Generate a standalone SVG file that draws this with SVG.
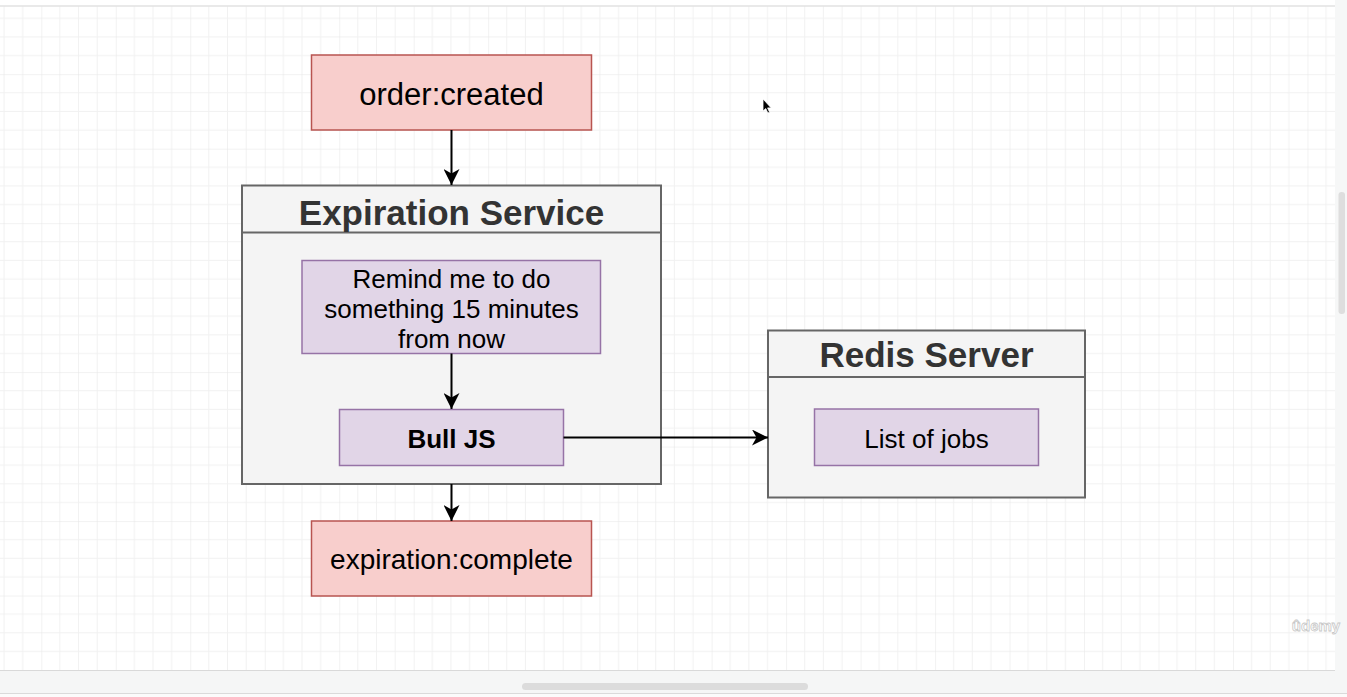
<svg xmlns="http://www.w3.org/2000/svg" width="1347" height="697" viewBox="0 0 1347 697">
  <defs>
    <pattern id="grid" patternUnits="userSpaceOnUse" x="41.3" y="-0.3" width="74.48" height="74.48">
      <path d="M18.62,0 V74.48 M37.24,0 V74.48 M55.86,0 V74.48 M0,18.62 H74.48 M0,37.24 H74.48 M0,55.86 H74.48" stroke="#f1f1f1" stroke-width="1" fill="none"/>
      <path d="M0,0 V74.48 M0,0 H74.48" stroke="#e5e5e5" stroke-width="1" fill="none"/>
    </pattern>
    <marker id="arrow" markerUnits="userSpaceOnUse" markerWidth="17" markerHeight="16" refX="16" refY="8" orient="auto">
      <path d="M0,0 L16,8 L0,16 L4.5,8 Z" fill="#000"/>
    </marker>
    <style>
      .txt { font-family: "Liberation Sans", Arial, sans-serif; text-anchor: middle; fill: #000; }
      .title { font-family: "Liberation Sans", Arial, sans-serif; text-anchor: middle; font-weight: bold; font-size: 35px; fill: #333333; }
      .event { fill: #f8cecc; stroke: #b85450; stroke-width: 1.5; }
      .cont { fill: #f4f4f4; stroke: #666666; stroke-width: 2; }
      .inner { fill: #e1d5e7; stroke: #9673a6; stroke-width: 1.5; }
      .edge { stroke: #000; stroke-width: 2; fill: none; marker-end: url(#arrow); }
    </style>
  </defs>

  <!-- canvas background -->
  <rect x="0" y="0" width="1347" height="697" fill="#ffffff"/>
  <rect x="0" y="6" width="1335" height="664" fill="url(#grid)"/>
  <line x1="0" y1="6" x2="1335" y2="6" stroke="#e2e2e2" stroke-width="1.5"/>
  <rect x="0" y="670" width="1347" height="27" fill="#f5f6f6"/>
  <line x1="0" y1="670.5" x2="1335" y2="670.5" stroke="#d9d9d9" stroke-width="1.2"/>
  <rect x="522" y="683" width="286" height="7" rx="3.5" fill="#dcdcdc"/>
  <line x1="0" y1="693.5" x2="1347" y2="693.5" stroke="#dadada" stroke-width="1"/>
  <rect x="0" y="694" width="1347" height="3" fill="#fbfbfb"/>
  <rect x="1335" y="0" width="12" height="670" fill="#f6f7f7"/>
  <rect x="1338.5" y="192" width="6.5" height="122" rx="3" fill="#dedede"/>

  <g id="order-created">
    <rect class="event" x="311.5" y="55" width="280" height="75"/>
    <text class="txt" x="451.5" y="105" font-size="31">order:created</text>
  </g>

  <g id="expiration-service">
    <rect class="cont" x="242" y="185.5" width="419" height="298.5"/>
    <line x1="242" y1="232.5" x2="661" y2="232.5" stroke="#666666" stroke-width="2"/>
    <text class="title" x="451.5" y="225">Expiration Service</text>
  </g>

  <g id="remind">
    <rect class="inner" x="302" y="260.5" width="298.5" height="93"/>
    <text class="txt" font-size="26" x="451.5" y="288">Remind me to do</text>
    <text class="txt" font-size="26" x="451.5" y="318">something 15 minutes</text>
    <text class="txt" font-size="26" x="451.5" y="347.5">from now</text>
  </g>

  <g id="bull-js">
    <rect class="inner" x="339.5" y="409.5" width="224" height="56"/>
    <text class="txt" font-size="26" font-weight="bold" x="451.5" y="448">Bull JS</text>
  </g>

  <g id="expiration-complete">
    <rect class="event" x="311.5" y="521" width="280" height="75"/>
    <text class="txt" x="451.5" y="569" font-size="28">expiration:complete</text>
  </g>

  <g id="redis-server">
    <rect class="cont" x="768" y="330.5" width="317" height="167"/>
    <line x1="768" y1="377" x2="1085" y2="377" stroke="#666666" stroke-width="2"/>
    <text class="title" x="926.5" y="367">Redis Server</text>
  </g>

  <g id="list-of-jobs">
    <rect class="inner" x="814.5" y="409" width="224" height="56.5"/>
    <text class="txt" font-size="26" x="926.5" y="448">List of jobs</text>
  </g>

  <!-- connectors -->
  <g id="connectors">
    <line class="edge" x1="451.5" y1="130" x2="451.5" y2="185"/>
    <line class="edge" x1="451.5" y1="353.5" x2="451.5" y2="409"/>
    <line class="edge" x1="451.5" y1="484" x2="451.5" y2="521"/>
    <line class="edge" x1="563.5" y1="437.5" x2="768" y2="437.5"/>
  </g>

  <!-- mouse cursor -->
  <path d="M763,99 L763,111 L765.8,108.6 L767.8,113 L769.6,112.2 L767.6,107.9 L771.2,107.9 Z" fill="#000" stroke="#fff" stroke-width="0.8"/>

  <!-- watermark -->
  <text x="1316" y="631" font-family="Liberation Sans, Arial, sans-serif" font-size="15" font-weight="bold" text-anchor="middle" fill="#ffffff" stroke="#c8c8c8" stroke-width="0.8">ûdemy</text>
</svg>
